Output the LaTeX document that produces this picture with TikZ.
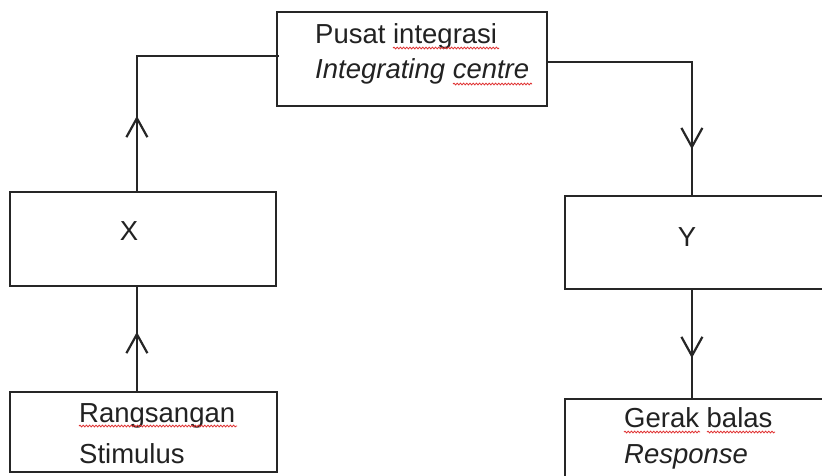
\documentclass[tikz,border=0pt]{standalone}
\usepackage{fontspec}
\setmainfont{Liberation Sans}
\usetikzlibrary{arrows.meta,calc,decorations.markings,decorations.pathmorphing}
\definecolor{ink}{HTML}{262626}
\definecolor{txt}{HTML}{222222}
\definecolor{squig}{HTML}{E03030}
\tikzset{
  boxnode/.style={draw=ink,line width=2.2pt,rectangle,inner sep=0pt},
  lbl/.style={text=txt,inner sep=0pt,anchor=base west,font=\fontsize{27.5}{33}\selectfont},
  conn/.style={draw=ink,line width=2.2pt},
  midarrow/.style={postaction={decorate},decoration={markings,
     mark=at position #1 with {\arrow{Straight Barb[length=19pt,width=21pt,line width=2.2pt]}}}},
  spell/.style={draw=squig,line width=0.8pt,decorate,decoration={snake,amplitude=0.9pt,segment length=3.2pt}}
}
\begin{document}
\begin{tikzpicture}[x=1pt,y=-1pt]
\clip (0,0) rectangle (822,475);
\fill[white] (0,0) rectangle (822,475);
% boxes
\node[boxnode,minimum width=270pt,minimum height=94pt] (top) at (412,59) {};
\node[boxnode,minimum width=266pt,minimum height=94pt] (X) at (143,239) {};
\node[boxnode,minimum width=267pt,minimum height=80pt] (stim) at (143.5,432) {};
\node[boxnode,minimum width=280pt,minimum height=93pt] (Y) at (705,242.5) {};
\node[boxnode,minimum width=280pt,minimum height=101pt] (resp) at (705,449.5) {};
% texts
\node[lbl] (t1) at (315,43) {Pusat integrasi};
\node[lbl] (t2) at (315,78) {\itshape Integrating centre};
\node[lbl,anchor=base] (tx) at (129,240) {X};
\node[lbl,anchor=base] (ty) at (687,246) {Y};
\node[lbl] (s1) at (79,422) {Rangsangan};
\node[lbl] (s2) at (79,463) {Stimulus};
\node[lbl] (r1) at (624,427) {Gerak balas};
\node[lbl] (r2) at (624,463) {\itshape Response};
% spell-check underlines
\draw[spell] (393,48) -- (499,48);
\draw[spell] (453,84) -- (532,84);
\draw[spell] (79,426) -- (237,426);
\draw[spell] (624,432) -- (700,432);
\draw[spell] (707,432) -- (775,432);
% connectors
\draw[conn,midarrow=59pt] ($(stim.north west)+(128,0)$) -- ($(X.south west)+(128,0)$);
\draw[conn,midarrow=75pt] ($(X.north west)+(128,0)$) |- ($(top.west)+(3,-3)$);
\draw[conn,midarrow=231pt] ($(top.east)+(0,3)$) -| ($(Y.north west)+(128,0)$);
\draw[conn,midarrow=68pt] ($(Y.south west)+(128,0)$) -- ($(resp.north west)+(128,0)$);
\end{tikzpicture}
\end{document}
